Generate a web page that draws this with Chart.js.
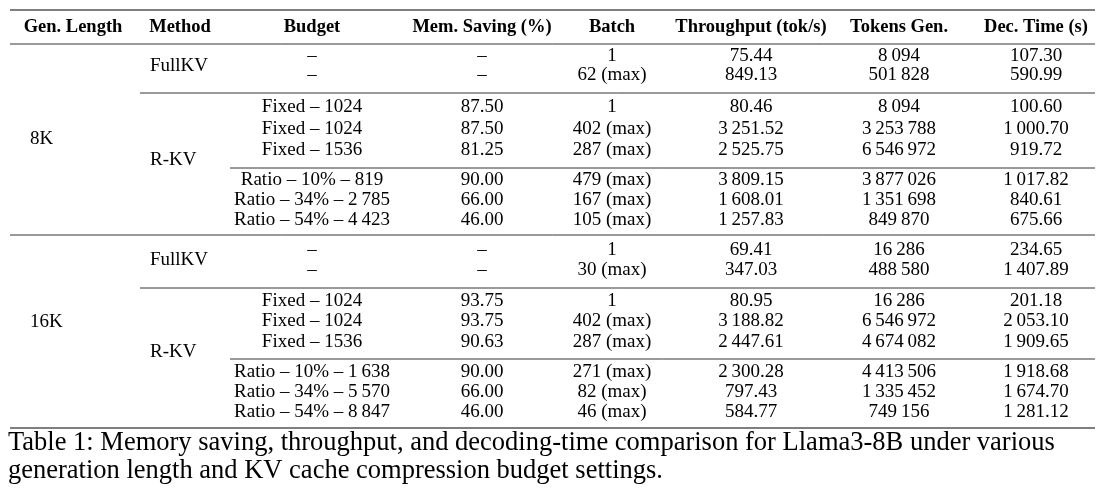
<!DOCTYPE html>
<html><head><meta charset="utf-8">
<script src="https://cdn.jsdelivr.net/npm/chart.js@4.4.0/dist/chart.umd.min.js"></script>
<style>html,body{margin:0;padding:0;background:#fff}</style>
</head><body>
<canvas id="c" width="1111" height="497"></canvas>
<script>
const headers = ["Gen. Length","Method","Budget","Mem. Saving (%)","Batch","Throughput (tok/s)","Tokens Gen.","Dec. Time (s)"];
const colX = [73,180,312,482,612,751,899,1036];
const headerY = 27;
const rowY = [56,75,107,129,150,180,200,220,250,270,301,321,342,372,392,412];
const budgets = ["–","–","Fixed – 1024","Fixed – 1024","Fixed – 1536","Ratio – 10% – 819","Ratio – 34% – 2\u2009785","Ratio – 54% – 4\u2009423","–","–","Fixed – 1024","Fixed – 1024","Fixed – 1536","Ratio – 10% – 1\u2009638","Ratio – 34% – 5\u2009570","Ratio – 54% – 8\u2009847"];
const memSaving = ["–","–","87.50","87.50","81.25","90.00","66.00","46.00","–","–","93.75","93.75","90.63","90.00","66.00","46.00"];
const batch = ["1","62 (max)","1","402 (max)","287 (max)","479 (max)","167 (max)","105 (max)","1","30 (max)","1","402 (max)","287 (max)","271 (max)","82 (max)","46 (max)"];
const throughput = ["75.44","849.13","80.46","3\u2009251.52","2\u2009525.75","3\u2009809.15","1\u2009608.01","1\u2009257.83","69.41","347.03","80.95","3\u2009188.82","2\u2009447.61","2\u2009300.28","797.43","584.77"];
const tokens = ["8\u2009094","501\u2009828","8\u2009094","3\u2009253\u2009788","6\u2009546\u2009972","3\u2009877\u2009026","1\u2009351\u2009698","849\u2009870","16\u2009286","488\u2009580","16\u2009286","6\u2009546\u2009972","4\u2009674\u2009082","4\u2009413\u2009506","1\u2009335\u2009452","749\u2009156"];
const decTime = ["107.30","590.99","100.60","1\u2009000.70","919.72","1\u2009017.82","840.61","675.66","234.65","1\u2009407.89","201.18","2\u2009053.10","1\u2009909.65","1\u2009918.68","1\u2009674.70","1\u2009281.12"];
const genLabels = [["8K",30,139],["16K",30,322]];
const methodLabels = [["FullKV",150,66],["R-KV",150,160],["FullKV",150,260],["R-KV",150,352]];
const rules = [[10,1095,10,1.2],[10,1095,44,0.8],[140,1095,93,0.8],[230,1095,168,0.8],[10,1095,235,0.8],[140,1095,288,0.8],[230,1095,359,0.8],[10,1095,428,1.2]];
const caption = ["Table 1: Memory saving, throughput, and decoding-time comparison for Llama3-8B under various","generation length and KV cache compression budget settings."];
const captionY = [443,471];

const tablePlugin = {
  id:'table',
  afterDraw(chart){
    const ctx = chart.ctx, sx = chart.scales.x, sy = chart.scales.y;
    const X = v=>sx.getPixelForValue(v), Y = v=>sy.getPixelForValue(v);
    ctx.save();
    ctx.fillStyle='#000'; ctx.strokeStyle='#000';
    rules.forEach(r=>{ctx.lineWidth=r[3];ctx.beginPath();ctx.moveTo(X(r[0]),Y(r[2]));ctx.lineTo(X(r[1]),Y(r[2]));ctx.stroke();});
    ctx.textBaseline='middle';
    ctx.font='bold 18.5px "Liberation Serif", serif'; ctx.textAlign='center';
    headers.forEach((h,i)=>ctx.fillText(h,X(colX[i]),Y(headerY)));
    ctx.font='19px "Liberation Serif", serif';
    ctx.textAlign='left';
    genLabels.forEach(g=>ctx.fillText(g[0],X(g[1]),Y(g[2])));
    methodLabels.forEach(g=>ctx.fillText(g[0],X(g[1]),Y(g[2])));
    ctx.textAlign='center';
    const cols=[budgets,memSaving,batch,throughput,tokens,decTime];
    cols.forEach((col,ci)=>col.forEach((v,ri)=>ctx.fillText(v,X(colX[ci+2]),Y(rowY[ri]))));
    ctx.font='26.5px "Liberation Serif", serif'; ctx.textAlign='left';
    caption.forEach((t,i)=>ctx.fillText(t,X(8),Y(captionY[i])));
    ctx.restore();
  }
};
new Chart(document.getElementById('c'),{
  type:'scatter',
  data:{datasets:[{data:[]}]},
  options:{responsive:false,animation:false,devicePixelRatio:1,
    layout:{padding:0},
    plugins:{legend:{display:false},tooltip:{enabled:false}},
    scales:{x:{type:'linear',min:0,max:1111,display:false},
            y:{type:'linear',min:0,max:497,reverse:true,display:false}}},
  plugins:[{id:'bg',beforeDraw(c){c.ctx.fillStyle='#fff';c.ctx.fillRect(0,0,c.width,c.height);}},tablePlugin]
});
</script>
</body></html>
